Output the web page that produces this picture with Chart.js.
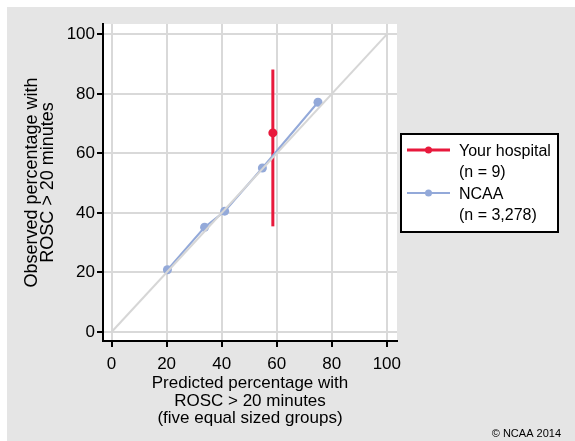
<!DOCTYPE html>
<html>
<head>
<meta charset="utf-8">
<script src="https://cdn.jsdelivr.net/npm/chart.js@4.4.1/dist/chart.umd.min.js"></script>
<style>
  html, body { margin: 0; padding: 0; background: #fff; }
  #wrap { position: relative; width: 575px; height: 441px; }
</style>
</head>
<body>
<div id="wrap"><canvas id="calib" width="575" height="441"></canvas></div>
<script>
// NCAA calibration points (five equal sized groups)
const ncaaPredicted = [20.3, 33.8, 41.1, 54.8, 75.0];
const ncaaObserved  = [20.9, 35.2, 40.6, 55.1, 77.2];

// hospital estimate with interval
const hospitalPredicted = [58.6];
const hospitalObserved  = [66.9];
const hospitalLow  = [35.5];
const hospitalHigh = [88.2];

// line of perfect calibration
const refLine = [0, 100];

const tickValues = [0, 20, 40, 60, 80, 100];

const legendItems = [
    { lines: ['Your hospital', '(n = 9)'], color: '#e8193c', width: 3 },
    { lines: ['NCAA', '(n = 3,278)'], color: '#93a9d9', width: 2 }
];

const FONT = "'Liberation Sans', Arial, sans-serif";

const backgroundPlugin = {
    id: 'background',
    beforeDraw(chart) {
        const { ctx, chartArea } = chart;
        ctx.save();
        ctx.fillStyle = '#ffffff';
        ctx.fillRect(0, 0, chart.width, chart.height);
        ctx.fillStyle = '#e5e5e5';
        ctx.fillRect(7, 7, chart.width - 7, chart.height - 7);
        ctx.fillStyle = '#ffffff';
        ctx.fillRect(chartArea.left, chartArea.top, chartArea.right - chartArea.left, chartArea.bottom - chartArea.top);
        ctx.restore();
    }
};

const sideLegendPlugin = {
    id: 'sideLegend',
    afterDraw(chart) {
        const ctx = chart.ctx;
        ctx.save();
        ctx.strokeStyle = '#000';
        ctx.lineWidth = 2;
        ctx.fillStyle = '#fff';
        ctx.fillRect(401, 134, 157, 98);
        ctx.strokeRect(401, 134, 157, 98);
        ctx.font = '16px ' + FONT;
        ctx.textBaseline = 'middle';
        let y = 150;
        legendItems.forEach(item => {
            ctx.strokeStyle = item.color;
            ctx.lineWidth = item.width;
            ctx.beginPath();
            ctx.moveTo(407, y);
            ctx.lineTo(450, y);
            ctx.stroke();
            ctx.fillStyle = item.color;
            ctx.beginPath();
            ctx.arc(428.5, y, 3.5, 0, Math.PI * 2);
            ctx.fill();
            ctx.fillStyle = '#000';
            item.lines.forEach((t, i) => ctx.fillText(t, 459, y + 1.5 + i * 21.5));
            y += 43;
        });
        ctx.font = '11px ' + FONT;
        ctx.textAlign = 'right';
        ctx.fillStyle = '#000';
        ctx.fillText('\u00a9 NCAA 2014', 561, 434);
        ctx.restore();
    }
};

const ctx = document.getElementById('calib').getContext('2d');

new Chart(ctx, {
    type: 'scatter',
    data: {
        datasets: [
            {
                label: 'reference',
                data: refLine.map(v => ({ x: v, y: v })),
                showLine: true,
                borderColor: '#d6d6d6',
                borderWidth: 2,
                pointRadius: 0
            },
            {
                label: 'NCAA',
                data: ncaaPredicted.map((x, i) => ({ x, y: ncaaObserved[i] })),
                showLine: true,
                borderColor: '#93a9d9',
                backgroundColor: '#93a9d9',
                borderWidth: 2,
                pointRadius: 4.5,
                pointBorderWidth: 0
            },
            {
                label: 'interval',
                data: hospitalPredicted.flatMap((x, i) => [{ x, y: hospitalLow[i] }, { x, y: hospitalHigh[i] }]),
                showLine: true,
                borderColor: '#e8193c',
                borderWidth: 3,
                pointRadius: 0
            },
            {
                label: 'Your hospital',
                data: hospitalPredicted.map((x, i) => ({ x, y: hospitalObserved[i] })),
                backgroundColor: '#e8193c',
                borderColor: '#e8193c',
                pointRadius: 4.5,
                pointBorderWidth: 0
            }
        ]
    },
    options: {
        responsive: false,
        animation: false,
        events: [],
        layout: { padding: { left: 7, top: 24, right: 178, bottom: 0 } },
        plugins: { legend: { display: false }, tooltip: { enabled: false } },
        scales: {
            x: {
                type: 'linear',
                min: -3.1,
                max: 103.7,
                afterFit: s => { s.height = 100; },
                afterBuildTicks: s => { s.ticks = tickValues.map(v => ({ value: v })); },
                grid: { color: '#d9d9d9', lineWidth: 2, tickColor: '#000', tickLength: 6, tickWidth: 2 },
                border: { color: '#000', width: 2 },
                ticks: { color: '#000', padding: 7, font: { family: FONT, size: 17 } },
                title: {
                    display: true,
                    text: ['Predicted percentage with', 'ROSC > 20 minutes', '(five equal sized groups)'],
                    color: '#000',
                    font: { family: FONT, size: 17, lineHeight: '17.5px' },
                    padding: { top: 0, bottom: 13.5 }
                }
            },
            y: {
                type: 'linear',
                min: -3.03,
                max: 103.5,
                afterFit: s => { s.width = 96; },
                afterBuildTicks: s => { s.ticks = tickValues.map(v => ({ value: v })); },
                grid: { color: '#d9d9d9', lineWidth: 2, tickColor: '#000', tickLength: 6, tickWidth: 2 },
                border: { color: '#000', width: 2 },
                ticks: { color: '#000', padding: 2, font: { family: FONT, size: 17 } },
                title: {
                    display: true,
                    text: ['Observed percentage with', 'ROSC > 20 minutes'],
                    color: '#000',
                    font: { family: FONT, size: 18, lineHeight: '15.5px' },
                    padding: { top: 17.75, bottom: 0 }
                }
            }
        }
    },
    plugins: [backgroundPlugin, sideLegendPlugin]
});
</script>
</body>
</html>
